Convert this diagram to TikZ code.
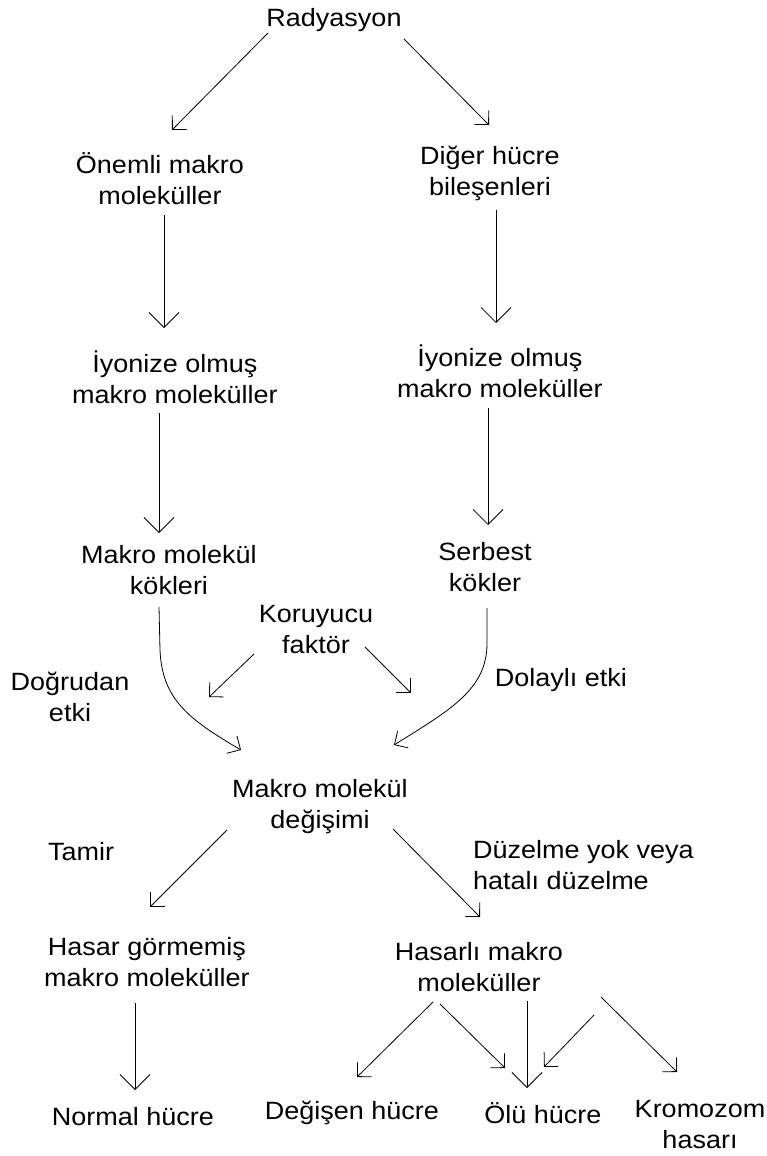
\documentclass[tikz,border=0pt]{standalone}
\usepackage{fontspec}
\setmainfont{Liberation Sans}[FakeStretch=1.08]
\usetikzlibrary{arrows.meta}
\begin{document}
\begin{tikzpicture}[x=1pt,y=-1pt,
  lbl/.style={font=\fontsize{25}{31}\selectfont, align=center, inner sep=0pt},
  varr/.style={-{Straight Barb[length=15pt,width=30pt]}, line width=0.8pt},
  darr/.style={-{Straight Barb[length=10pt,width=20pt]}, line width=0.8pt}]
\useasboundingbox[fill=white] (0,0) rectangle (767,1156);
% nodes
\node[lbl] (rad)   at (334,20)  {Radyasyon};
\node[lbl] (onem)  at (160,179) {Önemli makro\\moleküller};
\node[lbl] (diger) at (490,173) {Diğer hücre\\bileşenleri};
\node[lbl] (iyL)   at (175,377) {İyonize olmuş\\makro moleküller};
\node[lbl] (iyR)   at (500,371) {İyonize olmuş\\makro moleküller};
\node[lbl] (mkok)  at (169,570) {Makro molekül\\kökleri};
\node[lbl] (serb)  at (485,567) {Serbest\\kökler};
\node[lbl] (kor)   at (316,630) {Koruyucu\\faktör};
\node[lbl] (dog)   at (70,697)  {Doğrudan\\etki};
\node[lbl] (dol)   at (561,680) {Dolaylı etki};
\node[lbl] (mdeg)  at (320,807) {Makro molekül\\değişimi};
\node[lbl] (tamir) at (81,852)  {Tamir};
\node[lbl,anchor=west,align=left] (duz) at (473,865) {Düzelme yok veya\\hatalı düzelme};
\node[lbl] (hgor)  at (147,962) {Hasar görmemiş\\makro moleküller};
\node[lbl] (hasl)  at (479,967) {Hasarlı makro\\moleküller};
\node[lbl] (norm)  at (133,1117) {Normal hücre};
\node[lbl] (degh)  at (352,1113) {Değişen hücre};
\node[lbl] (olu)   at (543,1113) {Ölü hücre};
\node[lbl] (krom)  at (700,1125) {Kromozom\\hasarı};
% free ends
\coordinate (korL) at (209,697);
\coordinate (korR) at (411,693);
\coordinate (fs)   at (594,1015);
% connectors
\draw[darr] ([shift={(-66,13)}]rad.center) -- ([shift={(12,-49)}]onem.center);
\draw[darr] ([shift={(70,19)}]rad.center) -- ([shift={(-1,-48)}]diger.center);
\draw[varr] ([shift={(4,36)}]onem.center) -- ([shift={(-11,-49)}]iyL.center);
\draw[varr] ([shift={(6,37)}]diger.center) -- ([shift={(-4,-48)}]iyR.center);
\draw[varr] ([shift={(-16,36)}]iyL.center) -- ([shift={(-10,-37)}]mkok.center);
\draw[varr] ([shift={(-12,37)}]iyR.center) -- ([shift={(3,-42)}]serb.center);
\draw[darr] ([shift={(-10,37)}]mkok.center) -- (160,650) .. controls (162,700) and (190,720) .. ([shift={(-79,-57)}]mdeg.center);
\draw[darr] ([shift={(2,41)}]serb.center) -- (487,645) .. controls (486,690) and (450,710) .. ([shift={(74,-62)}]mdeg.center);
\draw[darr] ([shift={(-62,24)}]kor.center) -- (korL);
\draw[darr] ([shift={(49,17)}]kor.center) -- (korR);
\draw[darr] ([shift={(-93,23)}]mdeg.center) -- ([shift={(3,-55)}]hgor.center);
\draw[darr] ([shift={(73,22)}]mdeg.center) -- ([shift={(1,-50)}]hasl.center);
\draw[varr] ([shift={(-12,41)}]hgor.center) -- ([shift={(2,-27)}]norm.center);
\draw[darr] ([shift={(-46,35)}]hasl.center) -- ([shift={(5,-36)}]degh.center);
\draw[darr] ([shift={(-39,37)}]hasl.center) -- ([shift={(-38,-45)}]olu.center);
\draw[varr] ([shift={(48,34)}]hasl.center) -- ([shift={(-16,-25)}]olu.center);
\draw[darr] (fs) -- ([shift={(1,-46)}]olu.center);
\draw[darr] ([shift={(122,30)}]hasl.center) -- ([shift={(-23,-53)}]krom.center);
\end{tikzpicture}
\end{document}
